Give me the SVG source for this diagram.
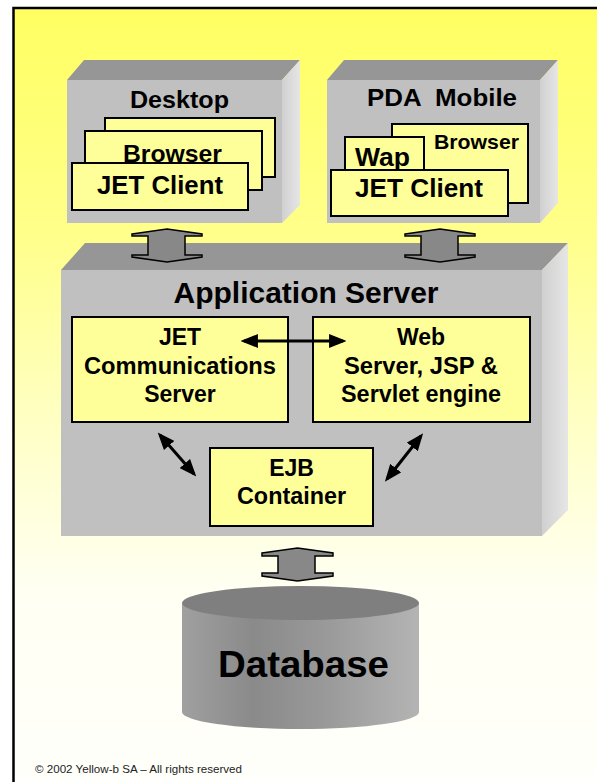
<svg xmlns="http://www.w3.org/2000/svg" width="597" height="782" viewBox="0 0 597 782">
<defs>
<linearGradient id="bg" x1="0" y1="0" x2="0" y2="1">
<stop offset="0" stop-color="#ffff62"/>
<stop offset="0.3" stop-color="#ffff8c"/>
<stop offset="0.55" stop-color="#ffffc8"/>
<stop offset="0.75" stop-color="#fffff2"/>
<stop offset="1" stop-color="#fffffb"/>
</linearGradient>
<linearGradient id="side" x1="0" y1="0" x2="1" y2="0">
<stop offset="0" stop-color="#d0d0d0"/>
<stop offset="1" stop-color="#e6e6e6"/>
</linearGradient>
<linearGradient id="cyl" x1="0" y1="0" x2="1" y2="0">
<stop offset="0" stop-color="#a0a0a0"/>
<stop offset="0.3" stop-color="#8a8a8a"/>
<stop offset="0.6" stop-color="#999999"/>
<stop offset="1" stop-color="#b4b4b4"/>
</linearGradient>
<marker id="ah" viewBox="0 0 10 10" refX="8" refY="5" markerWidth="5.8" markerHeight="4.6" preserveAspectRatio="none" orient="auto-start-reverse" markerUnits="strokeWidth">
<path d="M0,0 L10,5 L0,10 Z" fill="#000"/>
</marker>
<style>
.front{fill:#c0c0c0}
.top{fill:#969696}
.side{fill:url(#side)}
.card{fill:#ffff99;stroke:#000;stroke-width:2}
.t{font-family:"Liberation Sans",Arial,sans-serif;font-weight:bold;fill:#000;text-anchor:middle}
.blk{fill:#888888;stroke:#000;stroke-width:1.5;stroke-linejoin:miter}
.con{stroke:#000;stroke-width:3;fill:none;marker-start:url(#ah);marker-end:url(#ah)}
</style>
</defs>
<rect x="0" y="0" width="597" height="782" fill="#ffffff"/>
<rect x="14" y="8" width="583" height="774" fill="url(#bg)"/>
<path d="M13.5,782 V8 H597" fill="none" stroke="#000" stroke-width="2.5"/>

<g id="desktop">
<polygon class="top" points="67,80 84,60 300,60 282,80"/>
<polygon class="side" points="282,80 300,60 300,205 282,223"/>
<rect class="front" x="67" y="80" width="215" height="143"/>
<text class="t" x="179.5" y="108" font-size="24" textLength="99" lengthAdjust="spacingAndGlyphs">Desktop</text>
<rect class="card" x="105" y="118" width="170" height="59"/>
<rect class="card" x="85" y="131" width="177" height="59"/>
<text class="t" x="172.5" y="162" font-size="24" textLength="99" lengthAdjust="spacingAndGlyphs">Browser</text>
<rect class="card" x="72" y="163" width="176" height="47"/>
<text class="t" x="160" y="194" font-size="25" textLength="126" lengthAdjust="spacingAndGlyphs">JET Client</text>
</g>

<g id="pda">
<polygon class="top" points="327,80 344,60 558,60 540,80"/>
<polygon class="side" points="540,80 558,60 558,203 540,223"/>
<rect class="front" x="327" y="80" width="213" height="143"/>
<text class="t" x="442" y="106" font-size="24" textLength="150" lengthAdjust="spacingAndGlyphs" xml:space="preserve">PDA  Mobile</text>
<rect class="card" x="392" y="124" width="136" height="79"/>
<text class="t" x="476.5" y="149" font-size="21" textLength="85" lengthAdjust="spacingAndGlyphs">Browser</text>
<rect class="card" x="345" y="137" width="79" height="40"/>
<text class="t" x="382.5" y="166" font-size="25" textLength="55" lengthAdjust="spacingAndGlyphs">Wap</text>
<rect class="card" x="331" y="170" width="177" height="46"/>
<text class="t" x="419" y="197" font-size="25" textLength="128" lengthAdjust="spacingAndGlyphs">JET Client</text>
</g>

<g id="appserver">
<polygon class="top" points="61,270 85,243 568,243 542,270"/>
<polygon class="side" points="542,270 568,243 568,510 542,536"/>
<rect class="front" x="61" y="270" width="481" height="266"/>
<text class="t" x="306" y="303" font-size="29" textLength="265" lengthAdjust="spacingAndGlyphs">Application Server</text>
</g>

<g id="jetcomm">
<rect class="card" x="72" y="317" width="216" height="105"/>
<text class="t" x="180" y="345" font-size="23">JET</text>
<text class="t" x="180" y="374" font-size="23" textLength="192" lengthAdjust="spacingAndGlyphs">Communications</text>
<text class="t" x="180" y="402" font-size="23">Server</text>
</g>

<g id="webserver">
<rect class="card" x="313" y="317" width="217" height="105"/>
<text class="t" x="421" y="345" font-size="23">Web</text>
<text class="t" x="421" y="374" font-size="23" textLength="154" lengthAdjust="spacingAndGlyphs">Server, JSP &amp;</text>
<text class="t" x="421" y="402" font-size="23" textLength="160" lengthAdjust="spacingAndGlyphs">Servlet engine</text>
</g>

<g id="ejb">
<rect class="card" x="210" y="448" width="163" height="78"/>
<text class="t" x="291.5" y="476" font-size="23">EJB</text>
<text class="t" x="291.5" y="504" font-size="23" textLength="109" lengthAdjust="spacingAndGlyphs">Container</text>
</g>

<g id="database">
<path d="M182,603 V712 A118.5,17 0 0 0 419,712 V603 Z" fill="url(#cyl)"/>
<ellipse cx="300.5" cy="603" rx="118.5" ry="17" fill="#7f7f7f"/>
<text class="t" x="303.5" y="677" font-size="37" textLength="171" lengthAdjust="spacingAndGlyphs">Database</text>
</g>

<g id="connectors">
<path class="blk" d="M132,234 L167,229 L202,234 L202,236 L185,236 L185,255 L202,255 L202,257 L167,262 L132,257 L132,255 L148,255 L148,236 L132,236 Z"/>
<path class="blk" d="M405,234 L440,229 L475,234 L475,236 L458,236 L458,255 L475,255 L475,257 L440,262 L405,257 L405,255 L421,255 L421,236 L405,236 Z"/>
<path class="blk" d="M262,553 L297.5,548 L333,553 L333,556 L315,556 L315,573 L333,573 L333,576 L297.5,581 L262,576 L262,573 L278,573 L278,556 L262,556 Z"/>
<line class="con" x1="244" y1="341" x2="343" y2="341"/>
<line class="con" x1="160" y1="435" x2="194" y2="474"/>
<line class="con" x1="421" y1="436" x2="387" y2="479"/>
</g>

<text x="35" y="773" font-family="'Liberation Sans',Arial,sans-serif" font-size="11" fill="#222" textLength="207" lengthAdjust="spacingAndGlyphs">© 2002 Yellow-b SA – All rights reserved</text>
</svg>
